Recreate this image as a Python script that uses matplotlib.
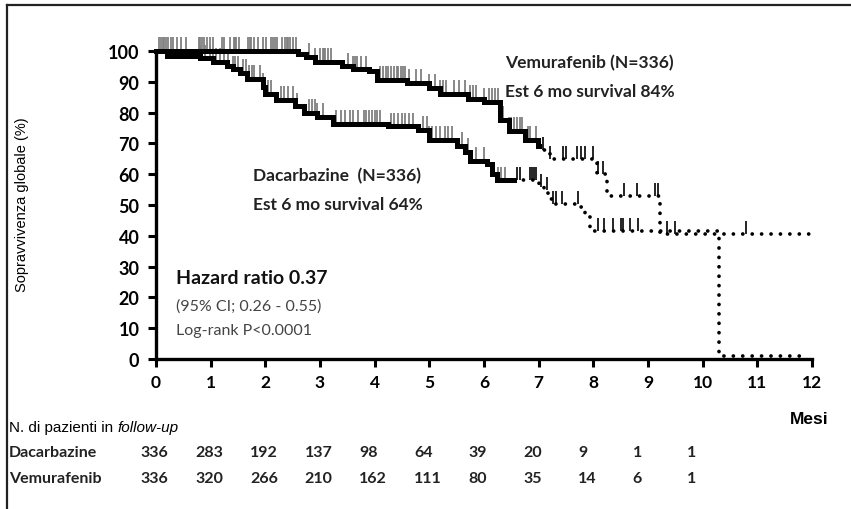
import numpy as np
import matplotlib
matplotlib.use("Agg")
import matplotlib.pyplot as plt
from matplotlib.lines import Line2D
import matplotlib.transforms as mtransforms

# curve di sopravvivenza
vem_t_solid = [0, 2.6, 2.75, 2.9, 3.4, 3.6, 3.9, 4.05, 4.6, 5.0, 5.2, 5.7, 6.0, 6.3, 6.45, 6.75, 6.98, 7.0]
vem_s_solid = [100, 99, 98, 96.5, 95, 94, 93.5, 90.5, 89.5, 88, 86, 84.5, 83.5, 77.5, 74, 71, 69, 69]
vem_t_dot = [7.0, 7.07, 7.2, 8.06, 8.25, 9.22, 12.0]
vem_s_dot = [69, 68, 65, 60, 53, 40.6, 40.6]

dac_t_solid = [0, 0.2, 0.8, 1.05, 1.3, 1.4, 1.54, 1.66, 1.95, 2.0, 2.2, 2.55, 2.7, 2.94, 3.24,
               4.25, 4.8, 5.0, 5.5, 5.65, 5.75, 6.05, 6.14, 6.23, 6.55]
dac_s_solid = [100, 98.5, 97.6, 96.4, 95, 94, 92.8, 90.9, 88.2, 86, 84, 82, 80, 78.5, 76.3,
               75.5, 74.5, 71, 69.2, 67.2, 64.4, 63.3, 60, 58, 58]
dac_t_dot = [6.55, 7.0, 7.1, 7.17, 7.26, 7.75, 7.85, 7.93, 8.0, 10.3, 11.9]
dac_s_dot = [58, 56, 55, 52, 50.3, 49.3, 46, 43, 41.6, 1, 1]

# censure
vem_cens_grey = [0.05, 0.09, 0.12, 0.15, 0.18, 0.22, 0.27, 0.32, 0.38, 0.45, 0.55, 0.78, 0.81, 0.85,
                 0.88, 0.93, 0.98, 1.05, 1.2, 1.25, 1.35, 1.42, 1.45, 1.47, 1.52, 1.68, 1.72, 1.74,
                 1.8, 1.86, 1.95, 2.02, 2.1, 2.14, 2.18, 2.22, 2.3, 2.36, 2.4, 2.42, 2.46, 2.5, 2.56,
                 2.8, 2.9, 3.0, 3.05, 3.08, 3.1, 3.15, 3.2, 3.52, 3.6, 3.64, 3.68, 3.75, 3.84, 4.1,
                 4.15, 4.2, 4.25, 4.3, 4.36, 4.4, 4.42, 4.48, 4.52, 4.55, 4.62, 4.75, 4.85, 5.0, 5.1,
                 5.2, 5.25, 5.3, 5.45, 5.55, 5.65, 5.75, 5.8, 5.85, 6.0, 6.1, 6.15, 6.2, 6.25, 6.35,
                 6.45, 6.5, 6.55, 6.6, 6.65, 6.7, 6.8, 6.85, 6.95]
vem_cens_black = [7.08, 7.2, 7.45, 7.5, 7.7, 7.78, 7.85, 8.0, 8.08, 8.18, 8.57, 8.8, 9.12, 9.18,
                  9.34, 9.49, 10.8]
dac_cens_grey = [0.8, 0.9, 0.98, 1.05, 1.1, 1.17, 1.25, 1.32, 1.4, 1.45, 1.5, 1.6, 1.65, 1.7, 1.75,
                 1.8, 1.9, 1.95, 2.0, 2.05, 2.1, 2.28, 2.35, 2.42, 2.5, 2.58, 2.8, 2.85, 2.9, 2.95,
                 3.05, 3.3, 3.38, 3.45, 3.55, 3.6, 3.7, 3.8, 3.85, 3.9, 3.95, 4.0, 4.05, 4.1, 4.3,
                 4.35, 4.42, 4.5, 4.55, 4.62, 4.7, 4.88, 4.95, 5.0, 5.05, 5.12, 5.2, 5.28, 5.35,
                 5.42, 5.6, 5.7, 5.85, 6.0, 6.25, 6.32, 6.38]
dac_cens_black = [6.6, 6.65, 6.84, 6.88, 6.92, 6.96, 7.05, 7.15, 7.26, 7.32, 7.42, 7.72, 8.08, 8.2,
                  8.36, 8.5, 8.54, 8.67, 8.81]

# pazienti a rischio
mesi = list(range(0, 13))
rischio_dac = [336, 283, 192, 137, 98, 64, 39, 20, 9, 1, 1]
rischio_vem = [336, 320, 266, 210, 162, 111, 80, 35, 14, 6, 1]

CAL = ['Lato', 'DejaVu Sans']
NARROW = ['Liberation Sans', 'DejaVu Sans']


def valore(t_list, s_list, t):
    i = np.searchsorted(t_list, t, side='right') - 1
    return s_list[max(i, 0)]


fig = plt.figure(figsize=(8.51, 5.10), dpi=100)
ax = fig.add_axes([156 / 851, 150 / 510, 656 / 851, 308 / 510])

# curve
ax.plot(vem_t_solid, vem_s_solid, drawstyle='steps-post', color='black', lw=3.6,
        solid_joinstyle='miter', clip_on=False, zorder=3)
ax.plot(dac_t_solid, dac_s_solid, drawstyle='steps-post', color='black', lw=3.6,
        solid_joinstyle='miter', clip_on=False, zorder=3)
ax.plot(vem_t_dot, vem_s_dot, drawstyle='steps-post', color='black', lw=2.7,
        linestyle=(0, (0.01, 2.5)), dash_capstyle='round', clip_on=False, zorder=3)
ax.plot(dac_t_dot, dac_s_dot, drawstyle='steps-post', color='black', lw=2.7,
        linestyle=(0, (0.01, 2.5)), dash_capstyle='round', clip_on=False, zorder=3)

# censure
for tt, ss, cens in [(vem_t_solid, vem_s_solid, vem_cens_grey), (dac_t_solid, dac_s_solid, dac_cens_grey)]:
    yy = [valore(tt, ss, c) for c in cens]
    ax.vlines(cens, yy, [y + 4.5 for y in yy], color='#808080', lw=1.3, clip_on=False, zorder=2)
for tt, ss, cens in [(vem_t_dot, vem_s_dot, vem_cens_black), (dac_t_dot, dac_s_dot, dac_cens_black)]:
    yy = [valore(tt, ss, c) for c in cens]
    ax.vlines(cens, yy, [y + 4.2 for y in yy], color='black', lw=1.2, clip_on=False, zorder=2)

ax.set_xlim(0, 12)
ax.set_ylim(0, 100)
ax.set_xticks(mesi)
ax.set_yticks(range(0, 101, 10))
ax.set_xticklabels([str(m) for m in mesi], family=CAL, fontsize=12.5, fontweight='bold')
ax.set_yticklabels([str(v) for v in range(0, 101, 10)], family=CAL, fontsize=13, fontweight='bold')
ax.tick_params(direction='out', length=6, width=2.2, pad=5)
ax.tick_params(axis='y', pad=6)
for s in ['top', 'right']:
    ax.spines[s].set_visible(False)
for s in ['left', 'bottom']:
    ax.spines[s].set_linewidth(2.4)
ax.spines['left'].set_bounds(0, 100)
ax.patch.set_visible(False)

# testi nel grafico
ax.text(6.38, 96.4, 'Vemurafenib (N=336)', family=CAL, fontsize=12.5, fontweight='bold',
        color='#222222', va='center')
ax.text(6.38, 87, 'Est 6 mo survival 84%', family=CAL, fontsize=12.5, fontweight='bold',
        color='#222222', va='center')
ax.text(1.77, 59.7, 'Dacarbazine  (N=336)', family=CAL, fontsize=12.5, fontweight='bold',
        color='#222222', va='center')
ax.text(1.77, 50.3, 'Est 6 mo survival 64%', family=CAL, fontsize=12.5, fontweight='bold',
        color='#222222', va='center')
ax.text(0.37, 26.3, 'Hazard ratio 0.37', family=CAL, fontsize=14, fontweight='bold',
        color='#111111', va='center')
ax.text(0.37, 17.2, '(95% CI; 0.26 - 0.55)', family=CAL, fontsize=11.5, color='#444444', va='center')
ax.text(0.37, 9.4, 'Log-rank P<0.0001', family=CAL, fontsize=11.5, color='#444444', va='center')

fig.text(22 / 851, 1 - 205 / 510, 'Sopravvivenza globale (%)', family=NARROW, fontsize=10.5,
         rotation=90, ha='center', va='center')

# tabella pazienti
fig.text(809 / 851, 1 - 420 / 510, 'Mesi', family=NARROW, fontsize=12.5, fontweight='bold',
         ha='center', va='center')
t1 = fig.text(9 / 851, 1 - 428 / 510, 'N. di pazienti in ', family=NARROW, fontsize=11,
              va='center')
fig.canvas.draw()
bb = t1.get_window_extent(renderer=fig.canvas.get_renderer())
fig.text(bb.x1 / fig.bbox.width, 1 - 428 / 510, 'follow-up', family=NARROW, fontsize=11,
         style='italic', va='center')

trans = mtransforms.blended_transform_factory(ax.transData, fig.transFigure)
for nome, valori, ypix in [('Dacarbazine', rischio_dac, 453), ('Vemurafenib', rischio_vem, 479)]:
    fig.text(9 / 851, 1 - ypix / 510, nome, family=CAL, fontsize=11.5, fontweight='bold',
             color='#222222', va='center')
    for m, v in zip(mesi, valori):
        ax.text(m - 0.28, 1 - ypix / 510, str(v), transform=trans, family=CAL, fontsize=11.5,
                fontweight='bold', color='#222222', va='center', ha='left', clip_on=False)

# cornice
fig.add_artist(Line2D([7 / 851, 1], [1 - 6 / 510, 1 - 6 / 510], color='#222222', lw=1.6,
                      transform=fig.transFigure))
fig.add_artist(Line2D([7 / 851, 7 / 851], [0, 1 - 6 / 510], color='#222222', lw=1.6,
                      transform=fig.transFigure))

fig.savefig('out.png', dpi=100)
